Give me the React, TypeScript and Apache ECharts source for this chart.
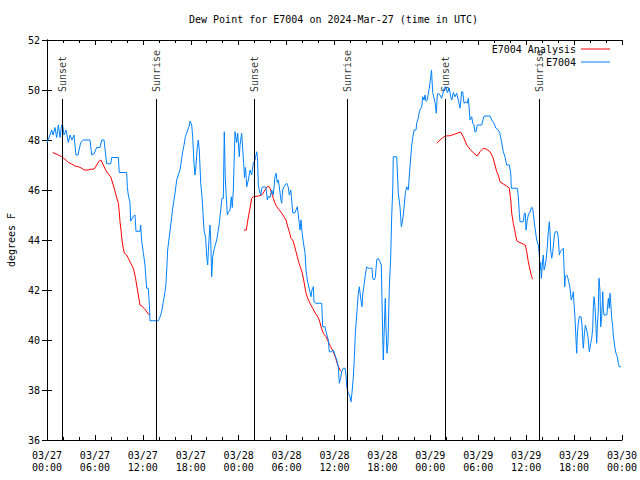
import React, { useEffect, useRef } from 'react';
import * as echarts from 'echarts';

const TITLE = 'Dew Point for E7004 on 2024-Mar-27 (time in UTC)';
const Y_NAME = 'degrees F';
const NAME_ANALYSIS = 'E7004 Analysis';
const NAME_OBS = 'E7004';
const MONTH = '03';
const START_DAY = 27;
const FONT = "'DejaVu Sans Mono', 'Liberation Mono', monospace";

// hours since 03/27 00:00 UTC
const sunHours = [1.92, 13.69, 25.96, 37.6, 49.88, 61.65];
const sunLabels = ['Sunset', 'Sunrise', 'Sunset', 'Sunrise', 'Sunset', 'Sunrise'];
const sunLineTop = 49.64;

const obsHours = [
  0, 0.38, 0.59, 0.75, 1.0, 1.21, 1.42, 1.63, 1.82, 1.97, 2.13, 2.38, 2.67, 2.88, 3.13, 3.38, 3.63, 3.88,
  4.22, 4.55, 5.38, 5.6, 5.89, 6.22, 6.64, 6.85, 7.14, 7.35, 7.48, 7.98, 8.1, 8.93, 9.05, 9.98, 10.06,
  10.18, 10.39, 10.48, 10.81, 11.02, 11.14, 11.65, 11.73, 11.86, 12.06, 12.27, 12.4, 12.48, 12.68, 12.81,
  12.9, 13.94, 14.06, 14.24, 14.4, 14.56, 14.78, 14.9, 14.99, 15.11, 15.31, 15.49, 15.62, 15.74, 15.9,
  16.03, 16.24, 16.44, 16.65, 16.87, 16.99, 17.16, 17.32, 17.49, 17.62, 17.78, 17.91, 18.12, 18.24, 18.41,
  18.53, 18.66, 18.82, 18.95, 19.07, 19.25, 19.41, 19.66, 19.87, 20.0, 20.12, 20.2, 20.32, 20.41, 20.5,
  20.62, 20.75, 20.91, 21.07, 21.25, 21.41, 21.58, 21.75, 21.91, 22.08, 22.2, 22.33, 22.58, 22.7, 22.92,
  23.08, 23.2, 23.33, 23.54, 23.75, 23.88, 24.08, 24.17, 24.38, 24.51, 24.63, 24.73, 24.86, 25.01, 25.21,
  25.42, 25.63, 25.83, 26.05, 26.26, 26.36, 26.46, 26.58, 26.76, 26.92, 27.17, 27.42, 27.59, 27.71, 27.92,
  28.14, 28.34, 28.55, 28.68, 28.84, 28.96, 29.09, 29.26, 29.39, 29.51, 29.68, 29.8, 30.02, 30.22, 30.34,
  30.52, 30.64, 30.77, 31.05, 31.18, 31.34, 31.47, 31.59, 31.68, 31.81, 31.93, 32.09, 32.31, 32.43, 32.6,
  32.72, 32.93, 33.06, 33.18, 33.35, 33.43, 33.68, 34.4, 34.52, 34.81, 34.94, 35.22, 35.35, 35.65, 35.85,
  36.06, 36.28, 36.48, 36.6, 36.78, 36.9, 37.1, 37.32, 37.44, 37.53, 37.73, 37.94, 38.07, 38.19, 38.36,
  38.48, 38.61, 38.78, 38.86, 38.98, 39.11, 39.28, 39.44, 39.53, 39.7, 39.86, 40.03, 40.2, 40.36, 40.53,
  40.7, 40.78, 40.95, 41.11, 41.29, 41.45, 41.7, 41.86, 42.04, 42.11, 42.2, 42.36, 42.45, 42.57, 42.7,
  42.86, 43.04, 43.16, 43.29, 43.36, 43.79, 43.86, 43.99, 44.2, 44.37, 44.54, 44.7, 44.87, 45.04, 45.24,
  45.45, 45.67, 45.79, 45.96, 46.21, 46.29, 46.49, 46.62, 46.8, 46.92, 47.05, 47.21, 47.33, 47.46, 47.62,
  47.75, 47.87, 48.05, 48.15, 48.21, 48.3, 48.46, 48.59, 48.75, 48.87, 49.0, 49.21, 49.42, 49.63, 49.71,
  49.96, 50.13, 50.38, 50.55, 50.68, 50.88, 51.09, 51.3, 51.5, 51.72, 51.93, 52.05, 52.22, 52.47, 52.63,
  52.76, 52.88, 52.97, 53.18, 53.31, 53.47, 53.59, 53.72, 53.88, 54.43, 54.72, 55.47, 55.69, 55.97, 56.22,
  56.51, 56.72, 56.94, 57.14, 57.35, 57.56, 57.89, 58.07, 58.14, 58.89, 59.02, 59.14, 59.23, 59.64, 59.77,
  59.89, 59.98, 60.14, 60.27, 60.48, 60.69, 60.82, 60.98, 61.11, 61.23, 61.32, 61.52, 61.65, 61.73, 61.82,
  61.9, 61.98, 62.07, 62.15, 62.24, 62.36, 62.49, 62.65, 62.77, 62.9, 62.99, 63.07, 63.2, 63.32, 63.4,
  63.53, 63.65, 63.9, 64.03, 64.15, 64.28, 64.45, 64.65, 64.74, 64.83, 64.9, 65.08, 65.24, 65.33, 65.49,
  65.65, 65.83, 65.9, 65.99, 66.12, 66.24, 66.33, 66.4, 66.53, 66.65, 66.87, 66.99, 67.08, 67.16, 67.28,
  67.41, 67.58, 67.74, 67.91, 68.08, 68.21, 68.33, 68.41, 68.5, 68.62, 68.75, 68.83, 68.91, 69.03, 69.12,
  69.25, 69.33, 69.46, 69.59, 69.66, 69.75, 70.09, 70.16, 70.29, 70.41, 70.5, 70.59, 70.71, 70.84, 70.91,
  71.12, 71.25, 71.41, 71.54, 71.66, 71.88,
];
const obsDew = [
  47.9, 48.2, 48.4, 48.2, 48.5, 48.1, 48.6, 48.1, 48.6, 48.6, 48.2, 48.4, 47.9, 48.2, 48.0, 48.2, 47.4, 47.4,
  47.9, 48.0, 48.0, 47.4, 47.45, 47.7, 47.7, 48.0, 48.0, 47.4, 47.05, 47.05, 47.3, 47.3, 46.7, 46.7, 46.1,
  45.8, 45.5, 44.75, 44.95, 45.0, 44.35, 44.35, 44.6, 43.95, 43.5, 43.0, 42.4, 42.07, 42.07, 41.47,
  40.77, 40.77, 40.85, 41.0, 41.2, 41.53, 41.93, 42.27, 42.8, 43.6, 44.13, 44.6, 44.93, 45.27, 45.6,
  45.87, 46.4, 46.6, 46.8, 47.27, 47.53, 47.8, 48.13, 48.27, 48.4, 48.53, 48.76, 48.6, 48.13, 47.07,
  46.6, 47.0, 47.73, 48.0, 47.6, 46.27, 45.73, 44.4, 44.07, 43.33, 43.0, 43.53, 44.2, 44.6, 44.0,
  42.53, 43.33, 43.6, 43.8, 44.0, 44.33, 44.67, 45.2, 45.67, 45.67, 48.33, 46.4, 45.0, 45.1, 45.2,
  45.73, 45.3, 46.0, 48.33, 47.9, 48.27, 47.33, 47.8, 48.27, 47.6, 47.07, 46.5, 46.9, 46.13, 46.4,
  46.8, 46.6, 47.07, 47.2, 47.53, 47.3, 46.2, 46.0, 45.8, 46.1, 46.13, 46.1, 45.6, 45.75, 45.7,
  46.0, 45.8, 46.53, 46.67, 46.3, 46.4, 46.13, 45.67, 45.47, 46.0, 46.13, 46.2, 46.27, 46.1, 45.8,
  46.0, 45.6, 45.09, 45.09, 45.2, 45.33, 45.0, 44.67, 44.4, 44.8, 44.33, 43.93, 43.47, 42.8, 42.4,
  42.2, 41.93, 41.73, 42.0, 42.13, 41.53, 41.47, 41.47, 40.53, 40.53, 40.33, 40.0, 39.53, 39.53, 39.6,
  39.4, 39.2, 38.93, 38.27, 38.5, 38.73, 38.87, 38.87, 38.6, 38.13, 37.87, 37.73, 37.53, 37.9, 38.53,
  39.27, 40.27, 41.0, 41.33, 41.87, 42.13, 41.67, 41.33, 41.8, 42.2, 42.6, 42.93, 42.87, 42.87, 42.87,
  42.87, 42.47, 42.4, 42.5, 43.2, 43.27, 43.13, 43.0, 40.13, 39.2, 40.13, 41.67, 40.5, 39.47, 39.9,
  42.07, 43.33, 44.93, 46.0, 47.33, 47.33, 46.8, 45.87, 45.33, 44.53, 44.8, 45.27, 45.87, 46.13, 46.0,
  46.93, 47.8, 48.07, 48.4, 48.4, 48.67, 48.87, 49.13, 49.27, 49.3, 49.73, 49.6, 49.8, 49.55, 49.6,
  49.87, 50.07, 50.53, 50.8, 50.4, 49.9, 49.67, 49.5, 49.07, 49.8, 49.87, 49.8, 49.67, 49.93, 50.07,
  50.13, 49.9, 50.07, 49.73, 49.6, 49.9, 49.73, 49.87, 49.6, 49.27, 49.93, 49.93, 49.47, 49.53, 49.47,
  49.67, 49.2, 48.8, 48.93, 48.67, 48.6, 48.33, 48.33, 48.6, 48.6, 48.96, 48.96, 48.8, 48.67, 48.47,
  48.4, 48.27, 47.87, 47.53, 47.33, 47.0, 47.0, 46.67, 46.07, 46.07, 45.73, 45.07, 44.73, 44.73, 45.07,
  45.07, 44.4, 44.8, 45.0, 45.13, 45.31, 45.27, 44.8, 44.47, 44.2, 44.0, 43.8, 43.4, 42.8, 43.1,
  42.47, 42.8, 43.2, 43.4, 42.8, 42.93, 43.2, 43.73, 44.33, 44.73, 44.33, 43.6, 43.27, 43.5, 43.73,
  44.2, 44.33, 44.33, 44.07, 43.4, 43.53, 43.6, 43.67, 42.93, 42.13, 42.53, 42.6, 42.47, 42.33, 42.07,
  41.6, 41.8, 41.93, 41.47, 40.87, 40.0, 39.47, 40.2, 40.67, 40.93, 40.93, 40.6, 40.0, 39.67, 40.2,
  40.6, 40.4, 40.13, 39.53, 39.87, 40.07, 40.47, 41.33, 41.73, 41.33, 40.47, 39.87, 40.53, 41.2, 42.47,
  41.93, 40.53, 40.93, 41.93, 41.2, 41.0, 41.0, 41.2, 41.67, 41.27, 41.87, 41.47, 40.87, 40.53, 40.2,
  39.67, 39.47, 39.33, 39.07, 38.93, 38.93,
];

const analysisHours1 = [
  0.71, 1.42, 1.84, 2.25, 2.67, 3.09, 3.51, 3.92, 4.35, 4.67, 5.17, 5.38, 5.92, 6.22, 6.55, 6.76, 7.05,
  7.35, 7.68, 7.98, 8.1, 8.3, 8.64, 8.93, 9.05, 9.14, 9.27, 9.39, 9.55, 9.68, 9.98, 10.18, 10.48, 10.81,
  11.06, 11.23, 11.43, 11.65, 11.86, 12.15, 12.4, 12.68, 12.9,
];
const analysisDew1 = [
  47.5, 47.4, 47.33, 47.23, 47.1, 47.04, 46.96, 46.93, 46.87, 46.8, 46.8, 46.83, 46.84, 47.0, 47.16, 47.2, 47.0,
  46.8, 46.64, 46.53, 46.4, 46.2, 45.8, 45.47, 45.13, 44.73, 44.4, 44.0, 43.67, 43.47, 43.4, 43.27, 43.07, 42.87,
  42.53, 42.2, 41.8, 41.4, 41.36, 41.27, 41.17, 41.04, 41.0,
];
const analysisHours2 = [
  24.67, 24.96, 25.08, 25.26, 25.42, 25.63, 25.83, 26.46, 26.89, 27.17, 27.42, 27.71, 27.92, 28.14, 28.34,
  28.55, 28.76, 29.09, 29.39, 29.68, 29.93, 30.09, 30.34, 30.55, 30.77, 30.97, 31.18, 31.34, 31.56, 31.77,
  31.97, 32.18, 32.39, 32.64, 32.93, 33.27, 33.56, 33.85, 34.1, 34.31, 34.6, 34.94, 35.22, 35.53, 35.85,
  36.15, 36.4, 36.69, 36.9,
];
const analysisDew2 = [
  44.4, 44.4, 44.67, 45.0, 45.27, 45.67, 45.73, 45.76, 45.8, 45.93, 46.07, 46.16, 46.07, 45.87, 45.67,
  45.47, 45.33, 45.2, 45.07, 44.93, 44.8, 44.6, 44.33, 44.07, 44.0, 43.8, 43.53, 43.33, 43.07, 42.87,
  42.67, 42.33, 41.93, 41.67, 41.47, 41.27, 41.09, 40.96, 40.8, 40.53, 40.27, 40.13, 39.93, 39.73, 39.53,
  39.27, 39.0, 38.8, 38.73,
];
const analysisHours3 = [
  48.8, 49.21, 49.84, 50.46, 51.09, 51.8, 52.13, 52.56, 52.97, 53.38, 53.88, 54.22, 54.63, 55.06, 55.47,
  55.81, 56.1, 56.31, 56.51, 56.72, 57.14, 57.56, 57.89, 58.07, 58.19, 58.39, 58.6, 58.82, 59.23, 59.64,
  59.89, 60.07, 60.27, 60.48, 60.69, 60.82,
];
const analysisDew3 = [
  47.87, 48.0, 48.16, 48.17, 48.24, 48.32, 48.13, 47.8, 47.63, 47.49, 47.36, 47.53, 47.67, 47.63, 47.53,
  47.33, 47.0, 46.73, 46.6, 46.33, 46.24, 46.16, 46.07, 45.6, 45.07, 44.67, 44.33, 43.97, 43.89, 43.84,
  43.8, 43.53, 43.13, 42.8, 42.53, 42.43,
];

const zip = (xs: number[], ys: number[]) => xs.map((x, i) => [x, ys[i]]);
const pad = (n: number) => (n < 10 ? '0' + n : '' + n);

export default function App() {
  const ref = useRef<HTMLDivElement>(null);

  useEffect(() => {
    if (!ref.current) return;
    const chart = echarts.init(ref.current, undefined, { renderer: 'svg' });
    const axisLine = { show: true, lineStyle: { color: '#000', width: 1 } };
    const xBase = {
      type: 'value' as const,
      min: 0,
      max: 72,
      interval: 6,
      axisLine,
      axisTick: { show: true, inside: true, length: 5, lineStyle: { color: '#000' } },
      minorTick: { show: true, splitNumber: 3, length: 3, lineStyle: { color: '#000' } },
      splitLine: { show: false },
    };
    const yBase = {
      type: 'value' as const,
      min: 36,
      max: 52,
      interval: 2,
      axisLine,
      axisTick: { show: true, inside: true, length: 5, lineStyle: { color: '#000' } },
      splitLine: { show: false },
    };
    const legendBase = {
      right: 30,
      orient: 'horizontal' as const,
      align: 'right' as const,
      icon: 'rect',
      itemWidth: 29,
      itemHeight: 1,
      padding: 0,
      selectedMode: false,
      textStyle: { fontFamily: FONT, fontSize: 10, color: '#000', lineHeight: 12 },
    };
    const lineSeries = (name: string, data: number[][], color: string, z: number) => ({
      type: 'line' as const,
      name,
      data,
      symbol: 'none',
      showSymbol: false,
      z,
      color,
      lineStyle: { color, width: 1 },
      silent: true,
    });

    chart.setOption({
      animation: false,
      backgroundColor: '#fff',
      textStyle: { fontFamily: FONT },
      title: {
        text: TITLE,
        left: 189,
        top: 13,
        padding: 0,
        textStyle: { fontFamily: FONT, fontSize: 10, fontWeight: 'normal', color: '#000', lineHeight: 12 },
      },
      legend: [
        { ...legendBase, top: 43, data: [NAME_ANALYSIS] },
        { ...legendBase, top: 56, data: [NAME_OBS] },
      ],
      grid: { left: 47, right: 18, top: 40, bottom: 40, containLabel: false, outerBoundsMode: 'none' },
      xAxis: [
        {
          ...xBase,
          position: 'bottom',
          axisLabel: {
            show: true,
            margin: 9,
            color: '#000',
            fontFamily: FONT,
            fontSize: 10,
            lineHeight: 12,
            formatter: (v: number) => {
              const day = START_DAY + Math.floor(v / 24);
              const hr = v % 24;
              return `${MONTH}/${pad(day)}\n${pad(hr)}:00`;
            },
          },
        },
        { ...xBase, position: 'top', axisLabel: { show: false } },
      ],
      yAxis: [
        {
          ...yBase,
          position: 'left',
          name: Y_NAME,
          nameLocation: 'middle',
          nameGap: 31,
          nameTextStyle: { fontFamily: FONT, fontSize: 10, color: '#000' },
          axisLabel: { show: true, margin: 7, color: '#000', fontFamily: FONT, fontSize: 10 },
        },
        { ...yBase, position: 'right', axisLabel: { show: false } },
      ],
      series: [
        {
          type: 'scatter',
          name: 'sun',
          symbolSize: 0,
          silent: true,
          data: sunHours.map((h, i) => ({ value: [h, sunLineTop], name: sunLabels[i] })),
          label: {
            show: true,
            formatter: (p: any) => p.name,
            position: 'top',
            distance: 7,
            rotate: 90,
            align: 'left',
            verticalAlign: 'middle',
            fontFamily: FONT,
            fontSize: 10,
            color: '#000',
          },
          markLine: {
            silent: true,
            symbol: 'none',
            label: { show: false },
            lineStyle: { color: '#000', width: 1, type: 'solid' },
            data: sunHours.map((h) => [{ coord: [h, 36] }, { coord: [h, sunLineTop] }]),
          },
        },
        lineSeries(NAME_ANALYSIS, zip(analysisHours1, analysisDew1), '#ff0000', 3),
        lineSeries(NAME_ANALYSIS, zip(analysisHours2, analysisDew2), '#ff0000', 3),
        lineSeries(NAME_ANALYSIS, zip(analysisHours3, analysisDew3), '#ff0000', 3),
        lineSeries(NAME_OBS, zip(obsHours, obsDew), '#0080ff', 4),
      ],
    });
    return () => chart.dispose();
  }, []);

  return (
    <div
      ref={ref}
      style={{ position: 'absolute', left: 0, top: 0, width: 640, height: 480, background: '#fff' }}
    />
  );
}
